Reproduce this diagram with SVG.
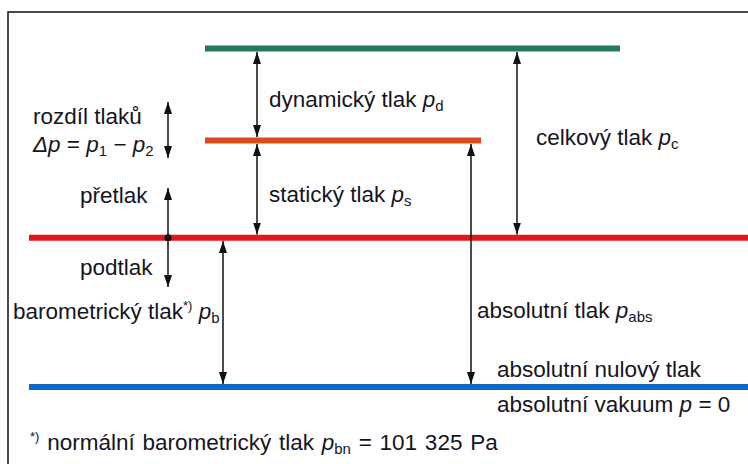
<svg xmlns="http://www.w3.org/2000/svg" width="748" height="464" viewBox="0 0 748 464">
<defs>
<marker id="ah" viewBox="0 0 12 8" refX="12" refY="4" markerWidth="12" markerHeight="8" markerUnits="userSpaceOnUse" orient="auto-start-reverse">
<path d="M0,0 L12,4 L0,8 Z" fill="#111"/>
</marker>
<style>
text{font-family:"Liberation Sans",Arial,sans-serif;font-size:22.5px;fill:#15151f}
.i{font-style:italic}
.s{font-size:15px}
.sup{font-size:13px}
.lvl{stroke-width:6;fill:none}
.arr{stroke:#111;stroke-width:1.5;fill:none}
.da{marker-start:url(#ah);marker-end:url(#ah)}
.sa{marker-end:url(#ah)}
</style>
</defs>
<rect width="748" height="464" fill="#fff"/>
<path d="M8,464 V12 H748" fill="none" stroke="#111" stroke-width="1.5"/>

<g id="levels">
<line id="total" class="lvl" x1="205" y1="48.5" x2="620" y2="48.5" stroke="#23785f"/>
<line id="static" class="lvl" x1="205" y1="140.5" x2="481" y2="140.5" stroke="#d94a1c"/>
<line id="barometric" class="lvl" x1="29" y1="237.7" x2="748" y2="237.7" stroke="#e2161e"/>
<line id="vacuum" class="lvl" x1="29" y1="387" x2="748" y2="387" stroke="#0e67c4"/>
</g>

<g id="connectors">
<line class="arr da" x1="257" y1="52" x2="257" y2="137"/>
<line class="arr da" x1="257" y1="144" x2="257" y2="234.5"/>
<line class="arr da" x1="517" y1="52" x2="517" y2="234.5"/>
<line class="arr da" x1="471" y1="144" x2="471" y2="384"/>
<line class="arr da" x1="223" y1="241" x2="223" y2="384"/>
<line class="arr da" x1="168" y1="102" x2="168" y2="158"/>
<line class="arr sa" x1="168" y1="237.7" x2="168" y2="188"/>
<line class="arr sa" x1="168" y1="237.7" x2="168" y2="287"/>
<circle cx="168" cy="237.7" r="3.5" fill="#111"/>
</g>

<g id="labels">
<text x="269" y="107">dynamický tlak <tspan class="i">p</tspan><tspan class="s" dy="4">d</tspan></text>
<text x="33" y="124">rozdíl tlaků</text>
<text x="33" y="152"><tspan class="i">Δp</tspan> = <tspan class="i">p</tspan><tspan class="s" dy="4">1</tspan><tspan dy="-4"> − </tspan><tspan class="i">p</tspan><tspan class="s" dy="4">2</tspan></text>
<text x="536" y="145">celkový tlak <tspan class="i">p</tspan><tspan class="s" dy="4">c</tspan></text>
<text x="80" y="203">přetlak</text>
<text x="269" y="202">statický tlak <tspan class="i">p</tspan><tspan class="s" dy="4">s</tspan></text>
<text x="80" y="275">podtlak</text>
<text x="13" y="319">barometrický tlak<tspan class="sup" dy="-9">*)</tspan><tspan dy="9"> </tspan><tspan class="i">p</tspan><tspan class="s" dy="4">b</tspan></text>
<text x="477" y="318">absolutní tlak <tspan class="i">p</tspan><tspan class="s" dy="4">abs</tspan></text>
<text x="497" y="377">absolutní nulový tlak</text>
<text x="497" y="412">absolutní vakuum <tspan class="i">p</tspan> = 0</text>
<text x="30" y="450" word-spacing="1.5"><tspan class="sup" dy="-9">*)</tspan><tspan dy="9"> normální barometrický tlak </tspan><tspan class="i">p</tspan><tspan class="s" dy="4">bn</tspan><tspan dy="-4"> = 101 325 Pa</tspan></text>
</g>
</svg>
